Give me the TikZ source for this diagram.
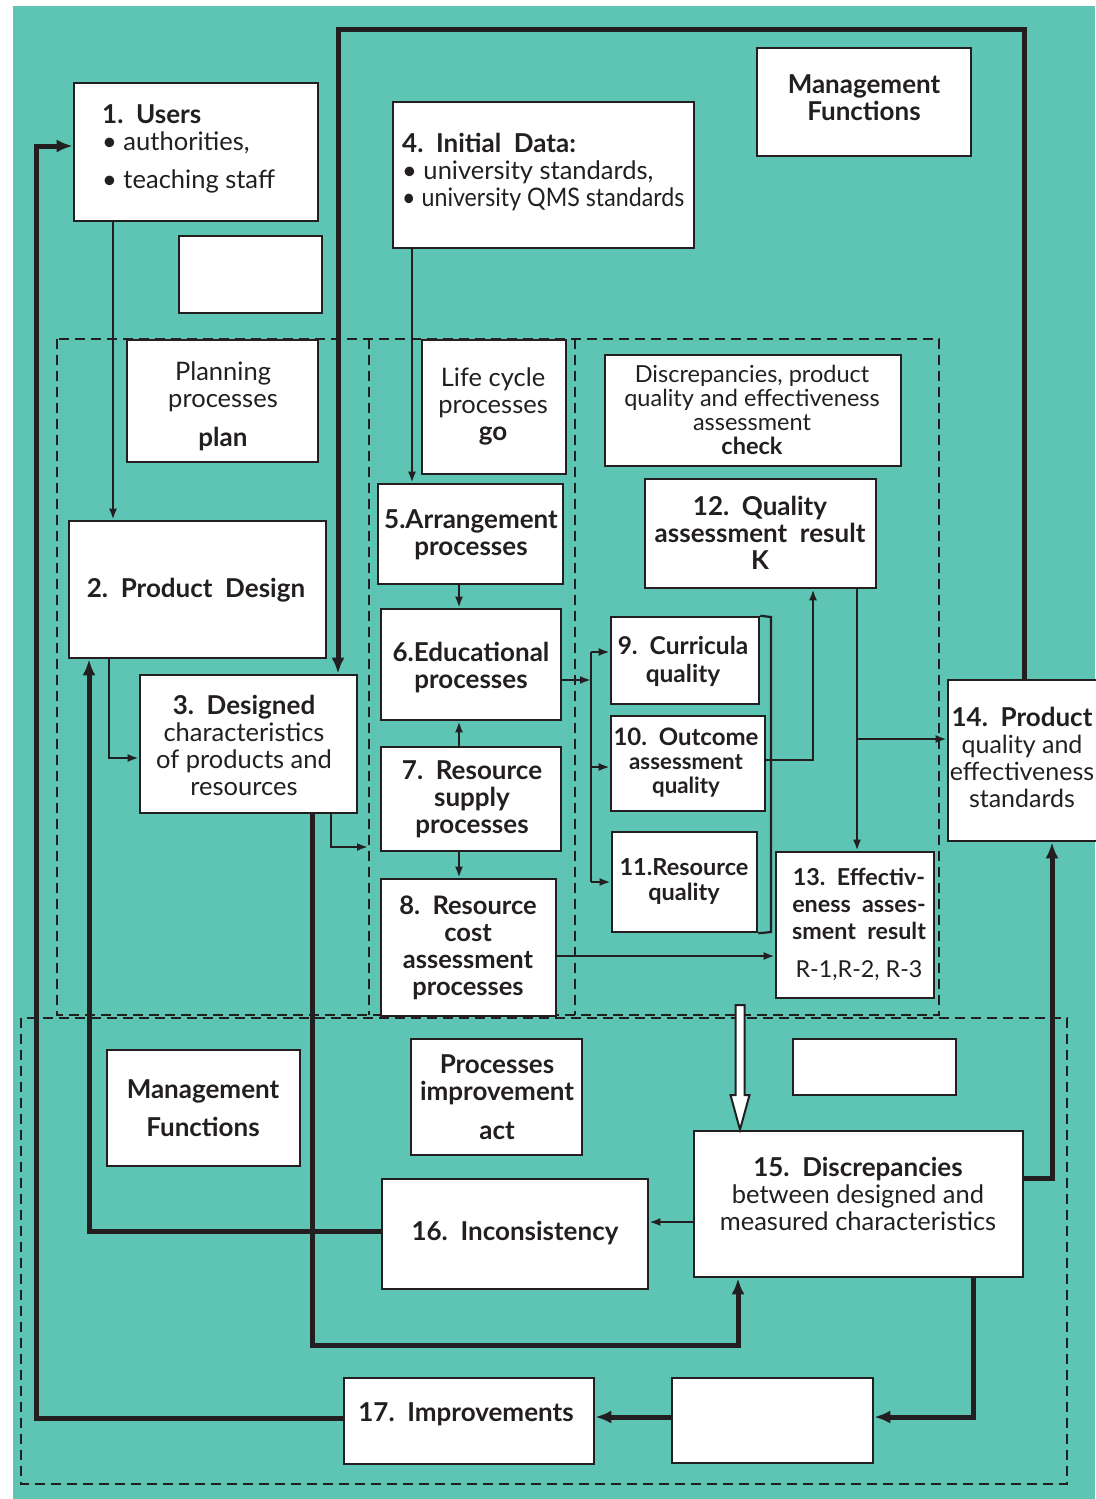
\documentclass[tikz,border=0pt]{standalone}
\usepackage{fontspec}
\usepackage{graphicx}
\setmainfont{Lato}
\usetikzlibrary{arrows.meta,fit}
\definecolor{bgteal}{HTML}{5EC4B4}
\definecolor{ink}{HTML}{231F20}
\newcommand\fsMain{\fontsize{25.5}{27}\selectfont}
\newcommand\fsBold{\fontsize{26}{27}\selectfont\bfseries}
\newcommand\fsSmall{\fontsize{23.5}{24}\selectfont}
\begin{document}
\begin{tikzpicture}[x=1pt,y=-1pt,
  box/.style={draw=ink,line width=2.6pt,fill=white,inner sep=0pt},
  txt/.style={inner sep=0pt,align=center,text=ink,font=\fsMain},
  btxt/.style={txt,font=\fsBold},
  ln/.style={draw=ink,line width=2.2pt},
  thk/.style={draw=ink,line width=5pt},
  ta/.style={-{Latex[length=11pt,width=8pt]}},
  Ta/.style={-{Latex[length=16pt,width=13pt]}},
  dsh/.style={draw=ink,line width=2.3pt,dash pattern=on 10pt off 6pt}]
\useasboundingbox (0,0) rectangle (1095,1499);
\fill[bgteal] (13,6) rectangle (1095,1499);
% dashed regions
\draw[dsh] (57,339) rectangle (939,1015);
\draw[dsh] (369,339) -- (369,1015);
\draw[dsh] (575,339) -- (575,1015);
\draw[dsh] (21,1018) rectangle (1067,1484);
% boxes
\node[box,fit={(74,83)(318,221)}] (n1) {};
\node[box,fit={(179,236)(322,313)}] (e1) {};
\node[box,fit={(393,102)(694,248)}] (n4) {};
\node[box,fit={(757,48)(971,156)}] (m1) {};
\node[box,fit={(127,340)(318,462)}] (pl) {};
\node[box,fit={(422,340)(566,474)}] (lc) {};
\node[box,fit={(605,355)(901,466)}] (ck) {};
\node[box,fit={(645,479)(876,588)}] (n12) {};
\node[box,fit={(69,521)(326,658)}] (n2) {};
\node[box,fit={(378,484)(563,584)}] (n5) {};
\node[box,fit={(381,609)(561,720)}] (n6) {};
\node[box,fit={(140,675)(357,813)}] (n3) {};
\node[box,fit={(381,747)(561,851)}] (n7) {};
\node[box,fit={(381,879)(556,1016)}] (n8) {};
\node[box,fit={(611,617)(759,704)}] (n9) {};
\node[box,fit={(611,716)(765,811)}] (n10) {};
\node[box,fit={(612,832)(757,932)}] (n11) {};
\node[box,fit={(776,852)(934,998)}] (n13) {};
\node[box,fit={(948,680)(1110,841)}] (n14) {};
\node[box,fit={(107,1050)(300,1166)}] (m2) {};
\node[box,fit={(411,1039)(582,1155)}] (ac) {};
\node[box,fit={(793,1039)(956,1095)}] (e2) {};
\node[box,fit={(694,1131)(1023,1277)}] (n15) {};
\node[box,fit={(382,1179)(648,1289)}] (n16) {};
\node[box,fit={(344,1378)(594,1464)}] (n17) {};
\node[box,fit={(672,1378)(873,1463)}] (e3) {};
% free-end coordinates
\coordinate (goin) at (368,847);
\coordinate (dtop) at (591,652);
\coordinate (dmid) at (591,767);
\coordinate (dbot) at (591,882);
\coordinate (brt) at (771,617);
\coordinate (brb) at (771,932);
\coordinate (brk) at (857,739);
% thin connectors
\draw[ln,ta] (113,0 |- n1.south) -- (113,0 |- n2.north);
\draw[ln,ta] (412,0 |- n4.south) -- (412,0 |- n5.north);
\draw[ln,ta] (459,0 |- n5.south) -- (459,0 |- n6.north);
\draw[ln,ta] (459,0 |- n7.north) -- (459,0 |- n6.south);
\draw[ln,ta] (459,0 |- n7.south) -- (459,0 |- n8.north);
\draw[ln,ta] (109,0 |- n2.south) |- (n3.west |- 0,758);
\draw[ln,ta] (331,0 |- n3.south) |- (goin);
\draw[ln,ta] (n6.east |- 0,680) -- (591,680);
\draw[ln] (dtop) -- (dbot);
\draw[ln,ta] (dtop) -- (n9.west |- dtop);
\draw[ln,ta] (dmid) -- (n10.west |- dmid);
\draw[ln,ta] (dbot) -- (n11.west |- dbot);
\draw[ln] (n9.north east) -- (brt) -- (brb) -- (n11.south east);
\draw[ln,ta] (n10.east |- 0,760) -| (813,0 |- n12.south);
\draw[ln,ta] (857,0 |- n12.south) -- (857,0 |- n13.north);
\draw[ln,ta] (brk) -- (n14.west |- brk);
\draw[ln,ta] (n8.east |- 0,956) -- (n13.west |- 0,956);
\draw[ln,ta] (n15.west |- 0,1222) -- (n16.east |- 0,1222);
% thick connectors
\draw[thk,Ta] (1024,0 |- n14.north) -- (1024,29) -- (338,29) -- (338,0 |- n3.north);
\draw[thk,Ta] (n15.east |- 0,1178) -| (1052,0 |- n14.south);
\draw[thk,Ta] (973,0 |- n15.south) |- (e3.east |- 0,1417);
\draw[thk,Ta] (e3.west |- 0,1417) -- (n17.east |- 0,1417);
\draw[thk,Ta] (n17.west |- 0,1418) -| (36,146) -- (n1.west |- 0,146);
\draw[thk,Ta] (n16.west |- 0,1231) -| (89,0 |- n2.south);
\draw[thk,Ta] (312,0 |- n3.south) |- (738,1345) -- (738,0 |- n15.south);
% hollow arrow
\draw[draw=ink,line width=2pt,fill=white,line join=miter] (735.5,1005) -- (744.5,1005) -- (744.5,1095) -- (749.5,1095) -- (740,0 |- n15.north) -- (730.5,1095) -- (735.5,1095) -- cycle;
% texts
\node[txt,anchor=west,align=left] (t1) at (102,149) {{\fsBold 1.\ \ Users}\\ • authorities,\\[11pt] • teaching staff};
\node[txt,anchor=west,align=left] (t4) at (402,172) {{\fsBold 4.\ \ Initial\ \ Data:}\\ • university standards,\\ \scalebox{0.91}[1]{• university QMS standards}};
\node[btxt] (tm1) at (864,98) {Management\\Functions};
\node[txt] (tpl) at (223,406) {Planning\\processes\\[12pt]{\fsBold plan}};
\node[txt] (tlc) at (493,406) {Life cycle\\processes\\{\fsBold go}};
\node[txt,font=\fsSmall] (tck) at (752,410) {Discrepancies, product\\quality and effectiveness\\assessment\\\textbf{check}};
\node[btxt] (t12) at (760,533) {12.\ \ Quality\\assessment\ \ result\\K};
\node[btxt] (t2) at (196,590) {2.\ \ Product\ \ Design};
\node[btxt] (t5) at (471,535) {5.Arrangement\\processes};
\node[btxt] (t6) at (471,668) {6.Educational\\processes};
\node[txt] (t3) at (244,745) {{\fsBold 3.\ \ Designed}\\characteristics\\of products and\\resources};
\node[btxt] (t7) at (472,799) {7.\ \ Resource\\supply\\processes};
\node[btxt,font=\fontsize{25.5}{27}\selectfont\bfseries] (t8) at (468,948) {8.\ \ Resource\\cost\\assessment\\processes};
\node[btxt,font=\fontsize{24.5}{28}\selectfont\bfseries] (t9) at (683,661) {9.\ \ Curricula\\quality};
\node[btxt,font=\fontsize{24}{24}\selectfont\bfseries] (t10) at (686,763) {10.\ \ Outcome\\{\fontsize{22.3}{24}\selectfont assessment}\\{\fontsize{22.3}{24}\selectfont quality}};
\node[btxt,font=\fontsize{23.5}{25}\selectfont\bfseries] (t11) at (684,881) {11.Resource\\quality};
\node[txt,font=\fontsize{23.3}{27}\selectfont] (t13) at (859,924) {\textbf{13.\ \ Effectiv-}\\\textbf{eness\ \ asses-}\\\textbf{sment\ \ result}\\[11pt]R-1,R-2, R-3};
\node[txt,font=\fontsize{25}{27}\selectfont] (t14) at (1022,757) {{\fsBold 14.\ \ Product}\\quality and\\effectiveness\\standards};
\node[btxt] (tm2) at (203,1108) {Management\\[11pt]Functions};
\node[btxt] (tac) at (497,1097) {Processes\\improvement\\[12pt]act};
\node[txt] (t15) at (858,1194) {{\fsBold 15.\ \ Discrepancies}\\between designed and\\measured characteristics};
\node[btxt] (t16) at (515,1233) {16.\ \ Inconsistency};
\node[btxt] (t17) at (466,1414) {17.\ \ Improvements};
\end{tikzpicture}
\end{document}
